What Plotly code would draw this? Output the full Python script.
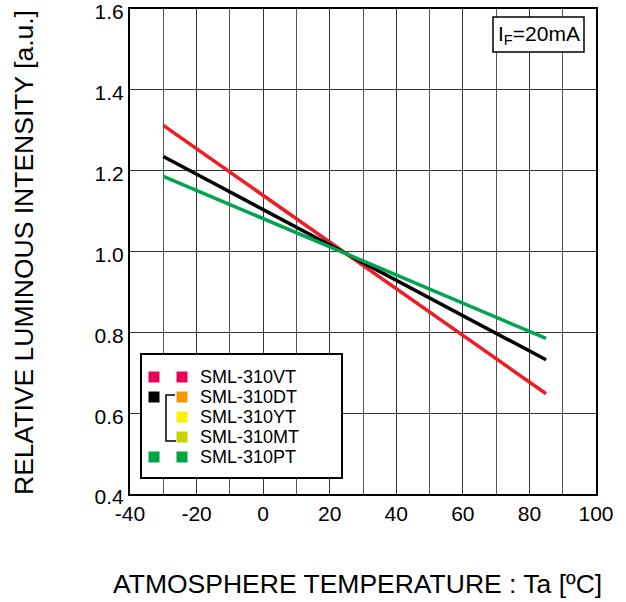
import plotly.graph_objects as go

# ---- data ----
temps = [-30, 85]
red_vals = [1.312, 0.648]     # SML-310VT
black_vals = [1.235, 0.732]   # SML-310DT / YT / MT
green_vals = [1.186, 0.785]   # SML-310PT

legend_names = ["SML-310VT", "SML-310DT", "SML-310YT", "SML-310MT", "SML-310PT"]
legend_left_colors = ["#e4005a", "#000000", None, None, "#00a540"]
legend_right_colors = ["#e4005a", "#f39800", "#fff000", "#c8d400", "#00a540"]

x_ticks = [-40, -20, 0, 20, 40, 60, 80, 100]
y_ticks = [0.4, 0.6, 0.8, 1.0, 1.2, 1.4, 1.6]

W, H = 626, 602
L, R, T, B = 130, 596, 9, 494


def px(x):
    return (x - L) / (R - L)


def py(y):
    return (B - y) / (B - T)


FONT = "Liberation Sans, Arial, sans-serif"

fig = go.Figure()
fig.add_trace(go.Scatter(x=temps, y=red_vals, mode="lines",
                         line=dict(color="#ee1c25", width=3.5), showlegend=False))
fig.add_trace(go.Scatter(x=temps, y=black_vals, mode="lines",
                         line=dict(color="#000000", width=3.5), showlegend=False))
fig.add_trace(go.Scatter(x=temps, y=green_vals, mode="lines",
                         line=dict(color="#00a550", width=3.5), showlegend=False))

shapes = []
annotations = []

# legend box
shapes.append(dict(type="rect", xref="paper", yref="paper",
                   x0=px(141), x1=px(342), y0=py(478), y1=py(354),
                   line=dict(color="black", width=2), fillcolor="white", layer="above"))
rows_y = [377, 397, 417, 437, 457]
s = 5.5
for i, name in enumerate(legend_names):
    yc = rows_y[i]
    if legend_left_colors[i]:
        shapes.append(dict(type="rect", xref="paper", yref="paper",
                           x0=px(154 - s), x1=px(154 + s), y0=py(yc + s), y1=py(yc - s),
                           line=dict(width=0), fillcolor=legend_left_colors[i], layer="above"))
    shapes.append(dict(type="rect", xref="paper", yref="paper",
                       x0=px(182 - s), x1=px(182 + s), y0=py(yc + s), y1=py(yc - s),
                       line=dict(width=0), fillcolor=legend_right_colors[i], layer="above"))
    annotations.append(dict(xref="paper", yref="paper", x=px(198), y=py(yc),
                            text=name, showarrow=False, xanchor="left", yanchor="middle",
                            font=dict(family=FONT, size=18, color="black")))
# bracket
shapes.append(dict(type="path", xref="paper", yref="paper",
                   path=f"M {px(175)},{py(395)} L {px(166)},{py(395)} L {px(166)},{py(441)} L {px(176)},{py(441)}",
                   line=dict(color="black", width=1.5), layer="above"))

# IF box
shapes.append(dict(type="rect", xref="paper", yref="paper",
                   x0=px(493), x1=px(584), y0=py(52), y1=py(17),
                   line=dict(color="black", width=1.5), fillcolor="white", layer="above"))
annotations.append(dict(xref="paper", yref="paper", x=px(538.5), y=py(35),
                        text="I<sub>F</sub>=20mA", showarrow=False,
                        xanchor="center", yanchor="middle",
                        font=dict(family=FONT, size=21, color="black")))

# axis titles
annotations.append(dict(xref="paper", yref="paper", x=px(357.5), y=py(584),
                        text="ATMOSPHERE TEMPERATURE : Ta [ºC]", showarrow=False,
                        xanchor="center", yanchor="middle",
                        font=dict(family=FONT, size=26.5, color="black")))
annotations.append(dict(xref="paper", yref="paper", x=px(24), y=py(253),
                        text="RELATIVE LUMINOUS INTENSITY [a.u.]", showarrow=False,
                        xanchor="center", yanchor="middle", textangle=-90,
                        font=dict(family=FONT, size=26.5, color="black")))

fig.update_layout(
    width=W, height=H, autosize=False,
    margin=dict(l=L, r=W - R, t=T, b=H - B, autoexpand=False),
    paper_bgcolor="white", plot_bgcolor="white",
    shapes=shapes, annotations=annotations,
    font=dict(family=FONT, size=21, color="black"),
)
fig.update_xaxes(range=[-40, 100], tickvals=x_ticks, ticktext=[str(v) for v in x_ticks],
                 showgrid=True, gridcolor="#333333", gridwidth=1,
                 minor=dict(dtick=10, showgrid=True, gridcolor="#555555", gridwidth=1),
                 showline=True, linecolor="black", linewidth=2, mirror=True, automargin=False,
                 ticklabeloverflow="allow",
                 ticks="", zeroline=False, tickfont=dict(size=21, family=FONT))
fig.update_yaxes(range=[0.4, 1.6], tickvals=y_ticks, ticktext=[f"{v:.1f}" for v in y_ticks],
                 showgrid=True, gridcolor="#333333", gridwidth=1,
                 showline=True, linecolor="black", linewidth=2, mirror=True, automargin=False,
                 ticklabeloverflow="allow", ticklabelshift=3,
                 ticks="", zeroline=False, tickfont=dict(size=21, family=FONT))

fig.write_html("out.html", config={"displayModeBar": False},
               post_script="document.body.style.margin='0';document.body.style.overflow='hidden';")
